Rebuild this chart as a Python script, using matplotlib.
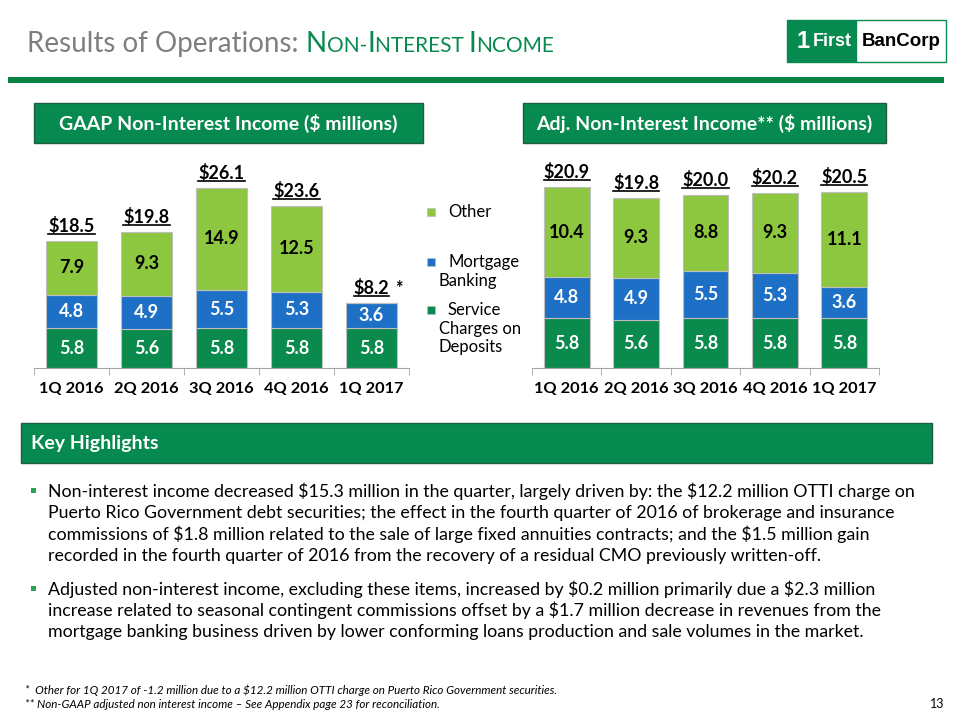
import numpy as np
import matplotlib
matplotlib.use("Agg")
import matplotlib.pyplot as plt
from matplotlib.patches import Rectangle
from matplotlib.lines import Line2D

plt.rcParams['font.family'] = ['Lato', 'DejaVu Sans']
plt.rcParams['text.parse_math'] = False

# data
quarters = ["1Q 2016", "2Q 2016", "3Q 2016", "4Q 2016", "1Q 2017"]
gaap_service = [5.8, 5.6, 5.8, 5.8, 5.8]
gaap_mortgage = [4.8, 4.9, 5.5, 5.3, 3.6]
gaap_other = [7.9, 9.3, 14.9, 12.5, -1.2]   # 1Q17 other is negative, not drawn
gaap_total = [18.5, 19.8, 26.1, 23.6, 8.2]
adj_service = [5.8, 5.6, 5.8, 5.8, 5.8]
adj_mortgage = [4.8, 4.9, 5.5, 5.3, 3.6]
adj_other = [10.4, 9.3, 8.8, 9.3, 11.1]
adj_total = [20.9, 19.8, 20.0, 20.2, 20.5]

C_SERV = '#0B8A4E'
C_MORT = '#1E6FC6'
C_OTH = '#8DC63F'
C_HEAD = '#078A4F'
C_EDGE = '#BFBFBF'

W, H = 960, 720
fig = plt.figure(figsize=(9.6, 7.2), dpi=100)


def fx(x):
    return x / W


def fy(y):
    return 1 - y / H


def px_rect(x0, y0, x1, y1, **kw):
    fig.patches.append(Rectangle((fx(x0), fy(y1)), (x1 - x0) / W, (y1 - y0) / H,
                                 transform=fig.transFigure, **kw))


def chain_text(x, y, parts):
    r = fig.canvas.get_renderer()
    for s, size, color in parts:
        t = fig.text(fx(x), fy(y), s, fontsize=size, color=color, va='baseline', ha='left')
        bb = t.get_window_extent(r)
        x = bb.x1


# title
chain_text(27, 52, [("Results of Operations: ", 20, '#7F7F7F'),
                    ("N", 20, C_HEAD), ("ON-", 15, C_HEAD), ("I", 20, C_HEAD),
                    ("NTEREST ", 15, C_HEAD), ("I", 20, C_HEAD), ("NCOME", 15, C_HEAD)])
px_rect(8, 77, 944, 83, color='#0A8348', lw=0)

# logo
px_rect(787, 20, 856, 62, facecolor=C_HEAD, edgecolor=C_HEAD, lw=1)
px_rect(856, 20, 946, 62, facecolor='white', edgecolor=C_HEAD, lw=1)
fig.text(fx(803), fy(42), "1", fontsize=17, color='white', fontweight='bold',
         family=['Liberation Sans'], ha='center', va='center')
fig.text(fx(832), fy(42), "First", fontsize=13, color='white', fontweight='bold',
         family=['Liberation Sans'], ha='center', va='center')
fig.text(fx(901), fy(42), "BanCorp", fontsize=13.5, color='black', fontweight='bold',
         family=['Liberation Sans'], ha='center', va='center')

# chart headers
for (x0, x1, txt) in [(34, 423, "GAAP Non-Interest Income ($ millions)"),
                      (523, 886, "Adj. Non-Interest Income** ($ millions)")]:
    px_rect(x0, 103, x1, 143, facecolor=C_HEAD, edgecolor='#1E5E3C', lw=1)
    fig.text(fx((x0 + x1) / 2), fy(123), txt, fontsize=14, color='white',
             fontweight='bold', ha='center', va='center')


def draw_chart(x0, x1, ybase, scale, ymax, width, serv, mort, oth, tot, star_last=False):
    top = ybase - ymax * scale
    ax = fig.add_axes([fx(x0), fy(ybase), (x1 - x0) / W, (ybase - top) / H])
    x = np.arange(len(quarters))
    oth_draw = np.clip(oth, 0, None)
    ax.bar(x, serv, width, color=C_SERV, edgecolor=C_EDGE, lw=0.8)
    ax.bar(x, mort, width, bottom=serv, color=C_MORT, edgecolor=C_EDGE, lw=0.8)
    b2 = np.array(serv) + np.array(mort)
    ax.bar(x, oth_draw, width, bottom=b2, color=C_OTH, edgecolor=C_EDGE, lw=0.8)
    for i in range(len(x)):
        ax.text(x[i], serv[i] / 2, f"{serv[i]:.1f}", color='white', fontsize=13,
                fontweight='bold', ha='center', va='center')
        ax.text(x[i], serv[i] + mort[i] / 2, f"{mort[i]:.1f}", color='white', fontsize=13,
                fontweight='bold', ha='center', va='center')
        if oth[i] > 0:
            ax.text(x[i], b2[i] + oth[i] / 2, f"{oth[i]:.1f}", color='black', fontsize=13,
                    fontweight='bold', ha='center', va='center')
    ax.set_xlim(-0.5, len(x) - 0.5)
    ax.set_ylim(0, ymax)
    for s in ['left', 'right', 'top']:
        ax.spines[s].set_visible(False)
    ax.spines['bottom'].set_color('#A6A6A6')
    ax.set_yticks([])
    ax.set_xticks(x)
    ax.set_xticklabels(quarters, fontsize=11.8, fontweight='bold')
    ax.tick_params(axis='x', which='major', length=0, pad=10)
    ax.set_xticks(np.arange(-0.5, len(x)), minor=True)
    ax.tick_params(axis='x', which='minor', length=5, color='#A6A6A6')
    # totals with underline
    r = fig.canvas.get_renderer()
    tops = b2 + oth_draw
    for i in range(len(x)):
        t = ax.annotate(f"${tot[i]:.1f}", (x[i], tops[i]), xytext=(0, 6.5),
                        textcoords='offset points', ha='center', va='baseline',
                        fontsize=13, fontweight='bold')
        bb = t.get_window_extent(r)
        ax_y = ax.transData.transform((0, tops[i]))[1] + 7
        fig.lines.append(Line2D([bb.x0 / W, bb.x1 / W], [ax_y / H, ax_y / H],
                                transform=fig.transFigure, color='black', lw=1.2))
        if star_last and i == len(x) - 1:
            fig.text((bb.x1 + 6) / W, (ax_y + 2) / H, "*", fontsize=13,
                     fontweight='bold', va='baseline')
    return ax


draw_chart(34, 409, 368, 6.88, 28, 0.667, gaap_service, gaap_mortgage, gaap_other,
           gaap_total, star_last=True)
draw_chart(532, 879, 368, 8.6, 22, 0.66, adj_service, adj_mortgage, adj_other, adj_total)

# legend
leg = [(C_OTH, ["Other"], 212), (C_MORT, ["Mortgage", "Banking"], 262),
       (C_SERV, ["Service", "Charges on", "Deposits"], 310)]
for col, lines, y in leg:
    px_rect(427, y - 4, 435, y + 4, facecolor=col, edgecolor=C_EDGE, lw=0.5)
    for k, ln in enumerate(lines):
        fig.text(fx(448 if k == 0 else 439), fy(y + k * 18.5), ln, fontsize=12,
                 va='center', ha='left')

# key highlights
px_rect(21, 423, 932, 463, facecolor=C_HEAD, edgecolor='#1E5E3C', lw=1)
fig.text(fx(31), fy(443), "Key Highlights", fontsize=14, color='white',
         fontweight='bold', va='center')

para1 = ["Non-interest income decreased $15.3 million in the quarter, largely driven by: the $12.2 million OTTI charge on",
         "Puerto Rico Government debt securities; the effect in the fourth quarter of 2016 of brokerage and insurance",
         "commissions of $1.8 million related to the sale of large fixed annuities contracts; and the $1.5 million gain",
         "recorded in the fourth quarter of 2016 from the recovery of a residual CMO previously written-off."]
para2 = ["Adjusted non-interest income, excluding these items, increased by $0.2 million primarily due a $2.3 million",
         "increase related to seasonal contingent commissions offset by a $1.7 million decrease in revenues from the",
         "mortgage banking business driven by lower conforming loans production and sale volumes in the market."]
for lines, y0 in [(para1, 491), (para2, 589)]:
    px_rect(31, y0 - 3, 36, y0 + 2, facecolor='#2EA05A', lw=0)
    for k, ln in enumerate(lines):
        fig.text(fx(48), fy(y0 + k * 21.6), ln, fontsize=12.8, va='center', ha='left')

# footnotes
fig.text(fx(25), fy(690), "*  Other for 1Q 2017 of -1.2 million due to a $12.2 million OTTI charge on Puerto Rico Government securities.",
         fontsize=8.4, style='italic', va='center')
fig.text(fx(25), fy(704), "** Non-GAAP adjusted non interest income \u2013 See Appendix page 23 for reconciliation.",
         fontsize=8.4, style='italic', va='center')
fig.text(fx(944), fy(704), "13", fontsize=9, va='center', ha='right')

fig.savefig("out.png", dpi=100)
